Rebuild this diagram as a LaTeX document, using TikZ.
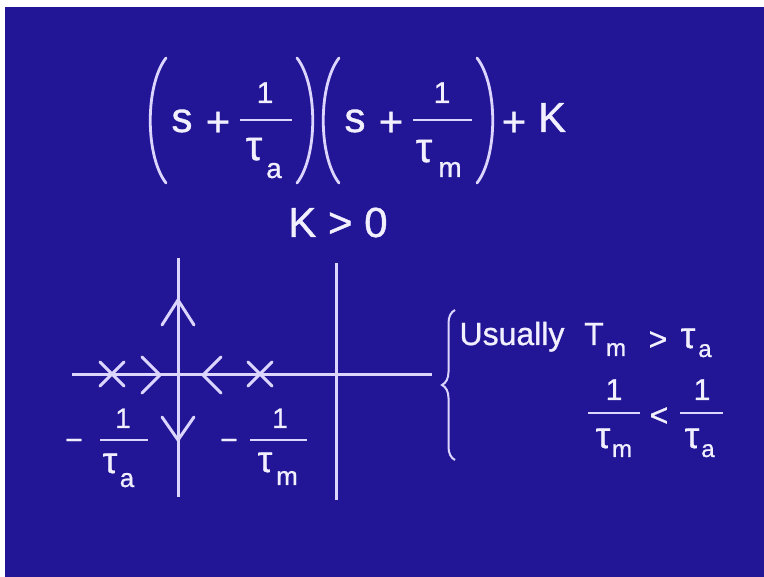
\documentclass[tikz,border=0pt]{standalone}
\usepackage{fontspec}
\setmainfont[FakeBold=0.9]{Liberation Sans}
\usetikzlibrary{decorations.pathreplacing}
\definecolor{bg}{RGB}{34,22,150}
\definecolor{ink}{RGB}{242,240,255}
\definecolor{lin}{RGB}{220,214,255}
\newcommand\fsz[1]{\fontsize{#1}{#1}\selectfont}
\tikzset{
  txt/.style={text=ink, inner sep=0pt, outer sep=0pt, anchor=base},
  tA/.style={txt, font=\fsz{42}},
  tB/.style={txt, font=\fsz{32}},
  tC/.style={txt, font=\fsz{30}},
  tD/.style={txt, font=\fsz{28}},
  tE/.style={txt, font=\fsz{26}},
  tF/.style={txt, font=\fsz{24}},
  gA/.style={txt, font=\fsz{42}},
  gB/.style={txt, font=\fsz{37}},
  fbar/.style={draw=lin, line width=2.6pt},
  paren/.style={draw=lin, line width=2.8pt, line cap=round},
  axis/.style={draw=lin, line width=3pt},
  chev/.style={draw=lin, line width=3pt, line cap=round, line join=miter},
  pole/.style={draw=lin, line width=3pt, line cap=round},
}
\begin{document}
\begin{tikzpicture}[x=1pt,y=-1pt]
\useasboundingbox (0,0) rectangle (764,577);
\fill[white] (0,0) rectangle (764,577);
\fill[bg] (5,7) rectangle (764,577);

% ---- characteristic polynomial ----
\draw[paren] (166,58) .. controls (145,85) and (145,156) .. (166,183);
\node[tA] (s1) at (182,132) {s};
\node[tA] (pl1) at (218,136) {+};
\node[tC] (n1) at (265,103) {1};
\draw[fbar] (240,120) -- (292,120);
\node[gA] (ta1) at (254,160) {τ};
\node[tD] (sa1) at (274,178) {a};
\draw[paren] (297,58) .. controls (318,85) and (318,156) .. (297,183);

\draw[paren] (339,58) .. controls (318,85) and (318,156) .. (339,183);
\node[tA] (s2) at (355,132) {s};
\node[tA] (pl2) at (391,136) {+};
\node[tC] (n2) at (442,103) {1};
\draw[fbar] (413,120) -- (472,120);
\node[gA] (ta2) at (424,162) {τ};
\node[tD] (sm2) at (450,177) {m};
\draw[paren] (477,58) .. controls (498,85) and (498,156) .. (477,183);
\node[tA] (pl3) at (514,136) {+};
\node[tA] (K) at (552,132) {K};

\node[tA] (Kpos) at (338,237) {K > 0};

% ---- root locus ----
\coordinate (axL) at (72,375);
\coordinate (axR) at (432,375);
\coordinate (b1) at (178,258);
\coordinate (b2) at (178,497);
\coordinate (im1) at (336,263);
\coordinate (im2) at (336,500);
\draw[axis] (axL) -- (axR);
\draw[axis] (b1) -- (b2);
\draw[axis] (im1) -- (im2);

\coordinate (pa) at (112,374);
\coordinate (pm) at (260,374);
\draw[pole] (pa) ++(-12,-12) -- ++(24,24);
\draw[pole] (pa) ++(-12,12) -- ++(24,-24);
\draw[pole] (pm) ++(-12,-12) -- ++(24,24);
\draw[pole] (pm) ++(-12,12) -- ++(24,-24);

\draw[chev] (142,357) -- (160,375) -- (142,393);
\draw[chev] (221,357) -- (203,375) -- (221,393);
\draw[chev] (162,325) -- (178,300) -- (194,325);
\draw[chev] (162,417) -- (178,440) -- (194,417);

\node[tC] (ma) at (74,450) {−};
\node[tD] (na) at (123,428) {1};
\draw[fbar] (100,440) -- (148,440);
\node[gB] (taa) at (110,473) {τ};
\node[tE] (saa) at (127,487) {a};

\node[tC] (mm) at (229,450) {−};
\node[tD] (nm) at (280,428) {1};
\draw[fbar] (250,440) -- (307,440);
\node[gB] (tam) at (265,472) {τ};
\node[tE] (smm) at (287,485) {m};

% ---- note ----
\draw[draw=lin, line width=2pt, decorate, decoration={brace, amplitude=13pt}] (455,460) -- (455,310);
\node[tB] (us) at (512,345) {Usually};
\node[tB] (T) at (594,345) {T};
\node[tF] (Tm) at (616,356) {m};
\node[tB] (gt) at (658,350) {>};
\node[gB] (tau3) at (688,348) {τ};
\node[tF] (a3) at (705,357) {a};

\node[tC] (n4) at (614,400) {1};
\draw[fbar] (588,413) -- (640,413);
\node[gB] (t4) at (603,448) {τ};
\node[tF] (m4) at (622,457) {m};
\node[tB] (lt) at (659,426) {<};
\node[tC] (n5) at (702,400) {1};
\draw[fbar] (680,413) -- (723,413);
\node[gB] (t5) at (692,448) {τ};
\node[tF] (a5) at (708,457) {a};
\end{tikzpicture}
\end{document}
